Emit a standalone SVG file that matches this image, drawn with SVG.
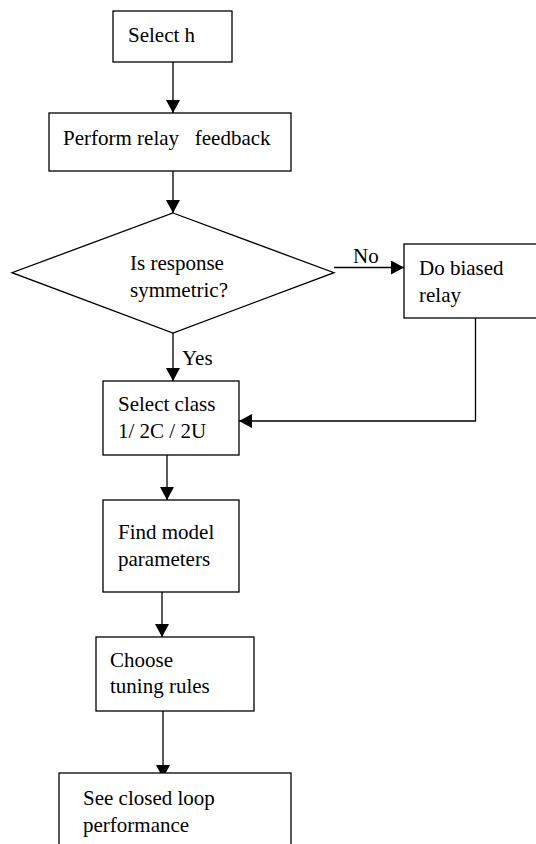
<svg xmlns="http://www.w3.org/2000/svg" width="536" height="844" viewBox="0 0 536 844">
<style>
.box{fill:#fff;stroke:#000;stroke-width:1.3}
.ln{fill:none;stroke:#000;stroke-width:1.3}
text{font-family:"Liberation Serif","Times New Roman",serif;font-size:21px;fill:#000}
</style>
<defs>
<marker id="ah" markerUnits="userSpaceOnUse" markerWidth="14" markerHeight="14" viewBox="0 0 13 14" refX="13" refY="7" orient="auto">
<path d="M0,0 L13,7 L0,14 Z" fill="#000"/>
</marker>
</defs>
<rect width="536" height="844" fill="#fff"/>
<g id="connectors">
<line class="ln" x1="173" y1="62" x2="173" y2="113" marker-end="url(#ah)"/>
<line class="ln" x1="173" y1="164" x2="173" y2="213" marker-end="url(#ah)"/>
<line class="ln" x1="334" y1="267.5" x2="404" y2="267.5" marker-end="url(#ah)"/>
<line class="ln" x1="173" y1="333" x2="173" y2="381" marker-end="url(#ah)"/>
<polyline class="ln" points="475.5,318 475.5,421 239,421" marker-end="url(#ah)"/>
<line class="ln" x1="167" y1="455" x2="167" y2="500" marker-end="url(#ah)"/>
<line class="ln" x1="162" y1="592" x2="162" y2="637" marker-end="url(#ah)"/>
<line class="ln" x1="163" y1="711" x2="163" y2="778" marker-end="url(#ah)"/>
<text x="353" y="263">No</text>
<text x="182" y="365">Yes</text>
</g>
<g id="select-h">
<rect class="box" x="113" y="11" width="119" height="51"/>
<text x="128" y="42">Select h</text>
</g>
<g id="perform">
<rect class="box" x="49" y="113" width="242" height="58"/>
<text x="63" y="145" xml:space="preserve">Perform relay   feedback</text>
</g>
<g id="decision">
<polygon class="box" points="173,213 334,272.7 173,333 12,272.7"/>
<text x="130" y="270">Is response</text>
<text x="130" y="297">symmetric?</text>
</g>
<g id="biased">
<rect class="box" x="404" y="244" width="140" height="74"/>
<text x="419" y="275">Do biased</text>
<text x="419" y="302">relay</text>
</g>
<g id="select-class">
<rect class="box" x="103" y="381" width="136" height="74"/>
<text x="118" y="411">Select class</text>
<text x="118" y="438">1/ 2C / 2U</text>
</g>
<g id="find-model">
<rect class="box" x="103" y="500" width="136" height="92"/>
<text x="118" y="539">Find model</text>
<text x="118" y="566">parameters</text>
</g>
<g id="choose">
<rect class="box" x="96" y="637" width="158" height="74"/>
<text x="110" y="667">Choose</text>
<text x="110" y="693">tuning rules</text>
</g>
<g id="see-closed">
<rect class="box" x="59" y="773" width="232" height="80"/>
<text x="83" y="805">See closed loop</text>
<text x="83" y="832">performance</text>
</g>
</svg>
